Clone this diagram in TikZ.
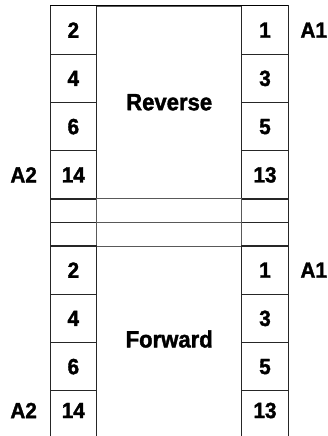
\documentclass[tikz,border=0pt]{standalone}
\usepackage{fontspec}
\newfontfamily\lsb{Liberation Sans Bold}[FakeBold=1.6,FakeStretch=0.94]
\begin{document}
\begin{tikzpicture}[x=1pt,y=-1pt,
  cell/.style={draw=black!85,line width=1pt,minimum width=46.6pt,minimum height=48.25pt,
    inner sep=0pt,outer sep=0pt,font=\lsb\fontsize{22}{22}\selectfont},
  spacer/.style={draw=black!85,line width=1pt,minimum width=46.6pt,minimum height=23.5pt,
    inner sep=0pt,outer sep=0pt},
  mid/.style={draw=black!65,line width=0.6pt,minimum width=145pt,inner sep=0pt,outer sep=0pt,
    font=\lsb\fontsize{23.5}{23.5}\selectfont},
  lab/.style={inner sep=0pt,font=\lsb\fontsize{22}{22}\selectfont}]
\useasboundingbox (0,0) rectangle (328,436);
% top block
\node[mid,minimum height=192.5pt] (rev) at (169.2,102.25) {Reverse};
\node[cell] (L2a)  at (73.35,30.12) {2};
\node[cell] (L4a)  at (73.35,78.37) {4};
\node[cell] (L6a)  at (73.35,126.62) {6};
\node[cell] (L14a) at (73.35,174.87) {14};
\node[cell] (R1a)  at (265,30.12) {1};
\node[cell] (R3a)  at (265,78.37) {3};
\node[cell] (R5a)  at (265,126.62) {5};
\node[cell] (R13a) at (265,174.87) {13};
\draw[black,line width=1pt] (L2a.north west) -- (R1a.north east);
% spacers
\node[spacer] (Ls1) at (73.35,210.75) {};
\node[spacer] (Ls2) at (73.35,234.25) {};
\node[spacer] (Rs1) at (265,210.75) {};
\node[spacer] (Rs2) at (265,234.25) {};
\node[mid,minimum height=24.2pt] (ms1) at (169.2,210.6) {};
\node[mid,minimum height=23.3pt] (ms2) at (169.2,234.35) {};
% bottom block
\node[mid,minimum height=193pt] (fwd) at (169.2,342.5) {};
\node[font=\lsb\fontsize{23.5}{23.5}\selectfont,inner sep=0pt] (fwdt) at (169.2,339) {Forward};
\node[cell] (L2b)  at (73.35,270.12) {2};
\node[cell] (L4b)  at (73.35,318.37) {4};
\node[cell] (L6b)  at (73.35,366.62) {6};
\node[cell] (L14b) at (73.35,414.87) {};
\node[cell] (R1b)  at (265,270.12) {1};
\node[cell] (R3b)  at (265,318.37) {3};
\node[cell] (R5b)  at (265,366.62) {5};
\node[cell] (R13b) at (265,414.87) {};
\node[lab] (t14b) at (73.35,410.5) {14};
\node[lab] (t13b) at (265,410.5) {13};
% side labels
\node[lab,anchor=west] (A1a) at ([xshift=12pt]R1a.east) {A1};
\node[lab,anchor=east] (A2a) at ([xshift=-13pt]L14a.west) {A2};
\node[lab,anchor=west] (A1b) at ([xshift=12pt]R1b.east) {A1};
\node[lab,anchor=east] (A2b) at ([xshift=-13pt]L14b.west |- t14b) {A2};
\end{tikzpicture}
\end{document}
